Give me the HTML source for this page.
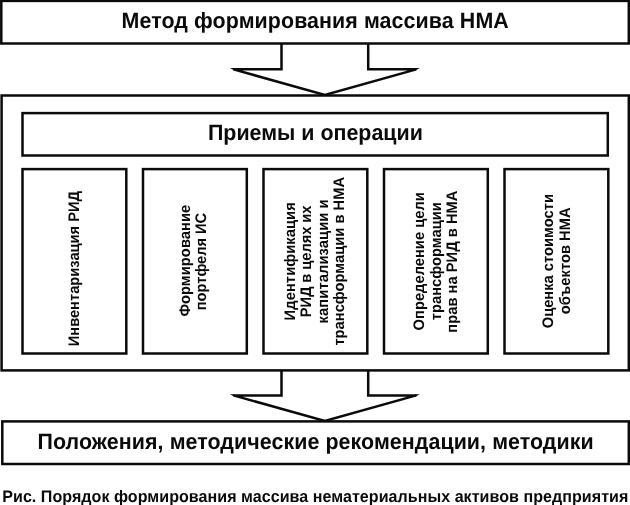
<!DOCTYPE html>
<html><head><meta charset="utf-8"><style>
html,body{margin:0;padding:0;background:#fff;width:630px;height:505px;overflow:hidden}
svg{position:absolute;left:0;top:0;display:block;will-change:transform}
.s{fill:none;stroke:#0a0a0a;stroke-width:2.5;stroke-linejoin:miter;stroke-miterlimit:4}
.f{fill:#0a0a0a;stroke:none}
.t{font-family:"Liberation Sans",sans-serif;font-weight:bold;fill:#0a0a0a;text-rendering:geometricPrecision}
</style></head><body>
<svg width="630" height="505" viewBox="0 0 630 505">
<g class="s">
<rect x="1.30" y="0.90" width="627.50" height="42.60"/>
<rect x="1.60" y="95.50" width="627.20" height="274.90"/>
<rect x="22.50" y="113.10" width="585.30" height="42.40"/>
<rect x="22.50" y="169.10" width="103.80" height="184.40"/>
<rect x="143.00" y="169.10" width="103.80" height="184.40"/>
<rect x="263.50" y="169.10" width="103.80" height="184.40"/>
<rect x="384.00" y="169.10" width="103.80" height="184.40"/>
<rect x="504.50" y="169.10" width="103.80" height="184.40"/>
<rect x="2.30" y="421.40" width="626.50" height="42.60"/>
<polyline points="281.5,43.5 281.5,69.35 233.5,69.35 324.85,95.0 416.20,69.35 368.2,69.35 368.2,43.5"/>
<polygon class="f" points="229.9,68.1 234.5,68.1 234.5,70.6"/>
<polygon class="f" points="419.80,68.1 415.20,68.1 415.20,70.6"/>
<polyline points="281.5,370.4 281.5,395.4 233.5,395.4 324.85,421.0 416.20,395.4 368.2,395.4 368.2,370.4"/>
<polygon class="f" points="229.9,394.15 234.5,394.15 234.5,396.65"/>
<polygon class="f" points="419.80,394.15 415.20,394.15 415.20,396.65"/>
</g>
<g class="t">
<text transform="translate(121.57,27.85) scale(1,1.04)" font-size="21.4" textLength="387.20">Метод формирования массива НМА</text>
<text transform="translate(207.97,139.85) scale(1,1.04)" font-size="21.4" textLength="214.82">Приемы и операции</text>
<text transform="translate(37.57,448.50) scale(1,1.04)" font-size="21.4" textLength="556.12">Положения, методические рекомендации, методики</text>
<text transform="translate(2.23,502.00) scale(1,1.04)" font-size="16.07" textLength="626.10">Рис. Порядок формирования массива нематериальных активов предприятия</text>
<text transform="translate(78.80,346.28) rotate(-90) scale(1,1.04)" font-size="14.7" textLength="155.34">Инвентаризация РИД</text>
<text transform="translate(189.90,316.61) rotate(-90) scale(1,1.04)" font-size="14.7" textLength="111.81">Формирование</text>
<text transform="translate(205.90,310.23) rotate(-90) scale(1,1.04)" font-size="14.7" textLength="97.43">портфеля ИС</text>
<text transform="translate(294.90,320.38) rotate(-90) scale(1,1.04)" font-size="14.7" textLength="118.20">Идентификация</text>
<text transform="translate(311.20,317.28) rotate(-90) scale(1,1.04)" font-size="14.7" textLength="111.69">РИД в целях их</text>
<text transform="translate(327.80,323.42) rotate(-90) scale(1,1.04)" font-size="14.7" textLength="124.04">капитализации и</text>
<text transform="translate(344.10,345.62) rotate(-90) scale(1,1.04)" font-size="14.7" textLength="168.70">трансформации в НМА</text>
<text transform="translate(423.90,330.40) rotate(-90) scale(1,1.04)" font-size="14.7" textLength="138.22">Определение цели</text>
<text transform="translate(440.60,320.22) rotate(-90) scale(1,1.04)" font-size="14.7" textLength="118.04">трансформации</text>
<text transform="translate(457.30,332.63) rotate(-90) scale(1,1.04)" font-size="14.7" textLength="142.01">прав на РИД в НМА</text>
<text transform="translate(553.10,328.30) rotate(-90) scale(1,1.04)" font-size="14.7" textLength="134.22">Оценка стоимости</text>
<text transform="translate(569.50,314.27) rotate(-90) scale(1,1.04)" font-size="14.7" textLength="106.86">объектов НМА</text>
</g>
</svg>
</body></html>
